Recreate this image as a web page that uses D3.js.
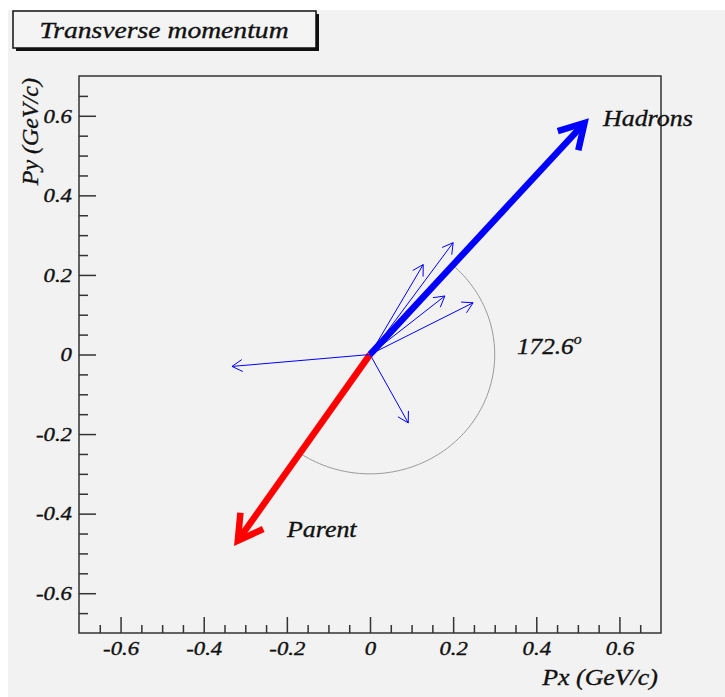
<!DOCTYPE html>
<html>
<head>
<meta charset="utf-8">
<script src="https://cdn.jsdelivr.net/npm/d3@7"></script>
<style>
  html, body { margin: 0; padding: 0; background: #ffffff; }
  svg { display: block; }
  text { font-family: "Liberation Serif", "Times New Roman", serif; font-style: italic; fill: #111; stroke: #111; stroke-width: 0.35px; }
</style>
</head>
<body>
<svg id="chart" width="725" height="697"></svg>
<script>
// Charged tracks in the transverse plane (Px, Py in GeV/c)
const trackPx = [-0.332, 0.092, 0.128, 0.200, 0.180, 0.248];
const trackPy = [-0.030, -0.172, 0.226, 0.281, 0.147, 0.130];

// Reconstructed parent transverse momentum
const parentP = [-0.318, -0.468];

// Axis ticks
const majorTicks = [-0.6, -0.4, -0.2, 0, 0.2, 0.4, 0.6];
const minorTicks = [-0.65, -0.55, -0.5, -0.45, -0.35, -0.3, -0.25, -0.15, -0.1, -0.05,
                    0.05, 0.1, 0.15, 0.25, 0.3, 0.35, 0.45, 0.5, 0.55, 0.65];

const arcRadius = 0.3;

const svg = d3.select("#chart");
const W = 725, H = 697;

// page background
svg.append("rect").attr("x", 8).attr("y", 10).attr("width", W - 8).attr("height", H - 10)
  .attr("fill", "#f2f2f2");

const frame = { left: 79, right: 661, top: 76, bottom: 633 };
const x = d3.scaleLinear().domain([-0.7, 0.7]).range([frame.left, frame.right]);
const y = d3.scaleLinear().domain([-0.7, 0.7]).range([frame.bottom, frame.top]);

const fmt = d => d === 0 ? "0" : d.toFixed(1);

// text placed at (px, py), stretched horizontally by sx
function label(parent, px, py, str, size, sx, anchor) {
  return parent.append("text")
    .attr("transform", `translate(${px},${py}) scale(${sx},1)`)
    .attr("text-anchor", anchor || "start")
    .style("font-size", size + "px")
    .text(str);
}

// frame box
svg.append("rect")
  .attr("x", frame.left).attr("y", frame.top)
  .attr("width", frame.right - frame.left).attr("height", frame.bottom - frame.top)
  .attr("fill", "none").attr("stroke", "#333").attr("stroke-width", 1.5);

// bottom axis: major and minor ticks pointing inward
const gx = svg.append("g").attr("transform", `translate(0,${frame.bottom})`)
  .call(d3.axisBottom(x).tickValues(majorTicks).tickSize(-16).tickPadding(0).tickFormat(fmt));
svg.append("g").attr("transform", `translate(0,${frame.bottom})`)
  .call(d3.axisBottom(x).tickValues(minorTicks).tickSize(-8).tickFormat(""));

// left axis
const gy = svg.append("g").attr("transform", `translate(${frame.left},0)`)
  .call(d3.axisLeft(y).tickValues(majorTicks).tickSize(-17).tickPadding(0).tickFormat(fmt));
svg.append("g").attr("transform", `translate(${frame.left},0)`)
  .call(d3.axisLeft(y).tickValues(minorTicks).tickSize(-9).tickFormat(""));

svg.selectAll(".domain").remove();
svg.selectAll(".tick line").attr("stroke", "#333").attr("stroke-width", 1.5);

const tickFont = sel => sel
  .style("font-family", '"Liberation Serif", serif').style("font-style", "italic")
  .style("font-size", "19px").attr("fill", "#222");
gx.selectAll(".tick text").call(tickFont)
  .attr("x", null).attr("y", null).attr("dy", 0)
  .attr("transform", "translate(0,22) scale(1.2,1)");
gy.selectAll(".tick text").call(tickFont)
  .attr("x", null).attr("dy", "0.33em")
  .attr("transform", "translate(-7,0) scale(1.2,1)");

// axis titles
label(svg, 658, 685, "Px (GeV/c)", 24, 1.08, "end");
svg.append("text").attr("transform", "translate(38,78) rotate(-90)").attr("text-anchor", "end")
  .style("font-size", "24px").text("Py (GeV/c)");

// title box with drop shadow
svg.append("rect").attr("x", 16).attr("y", 14).attr("width", 303).attr("height", 37).attr("fill", "#111");
svg.append("rect").attr("x", 13).attr("y", 11).attr("width", 303).attr("height", 37)
  .attr("fill", "#f4f4f4").attr("stroke", "#111").attr("stroke-width", 1.5);
label(svg, 164, 38, "Transverse momentum", 24, 1.15, "middle");

// hadron system = vector sum of tracks
const hadronP = [d3.sum(trackPx), d3.sum(trackPy)];

const x0 = x(0), y0 = y(0);

function arrowHead(g, px, py, len, half, color, width) {
  const tx = x(px), ty = y(py);
  const a = Math.atan2(ty - y0, tx - x0);
  const pts = [
    [tx - len * Math.cos(a - half), ty - len * Math.sin(a - half)],
    [tx, ty],
    [tx - len * Math.cos(a + half), ty - len * Math.sin(a + half)]
  ];
  g.append("path").attr("d", d3.line()(pts)).attr("fill", "none")
    .attr("stroke", color).attr("stroke-width", width)
    .attr("stroke-linejoin", "miter").attr("stroke-linecap", "butt");
}

// opening angle between parent and hadron system
const angH = Math.atan2(hadronP[1], hadronP[0]);
const angP = Math.atan2(parentP[1], parentP[0]);
let dAng = Math.abs(angH - angP);
if (dAng > Math.PI) dAng = 2 * Math.PI - dAng;

// arc of radius 0.3 sweeping clockwise from hadrons to parent
let endAng = angP;
while (endAng > angH) endAng -= 2 * Math.PI;
const arcSteps = d3.range(0, 101).map(i => angH + (endAng - angH) * i / 100);
svg.append("path")
  .attr("d", d3.line()(arcSteps.map(t => [x(arcRadius * Math.cos(t)), y(arcRadius * Math.sin(t))])))
  .attr("fill", "none").attr("stroke", "#999").attr("stroke-width", 1);

// parent arrow
const gP = svg.append("g");
gP.append("line").attr("x1", x0).attr("y1", y0).attr("x2", x(parentP[0])).attr("y2", y(parentP[1]))
  .attr("stroke", "#ff0000").attr("stroke-width", 6.5);
arrowHead(gP, parentP[0], parentP[1], 28, Math.PI / 6, "#ff0000", 6.5);

// hadron arrow
const gH = svg.append("g");
gH.append("line").attr("x1", x0).attr("y1", y0).attr("x2", x(hadronP[0])).attr("y2", y(hadronP[1]))
  .attr("stroke", "#0000ff").attr("stroke-width", 6.5);
arrowHead(gH, hadronP[0], hadronP[1], 28, Math.PI / 6, "#0000ff", 6.5);

// individual tracks
const gT = svg.append("g");
trackPx.forEach((px, i) => {
  const py = trackPy[i];
  gT.append("line").attr("x1", x0).attr("y1", y0).attr("x2", x(px)).attr("y2", y(py))
    .attr("stroke", "#0000ff").attr("stroke-width", 1);
  arrowHead(gT, px, py, 12, Math.PI / 6, "#0000ff", 1);
});

// labels
label(svg, 603, 126, "Hadrons", 24, 1.08);
label(svg, 287, 537, "Parent", 24, 1.08);
const angLabel = label(svg, 517, 354, "", 24, 1.05);
angLabel.append("tspan").text(d3.format(".1f")(dAng * 180 / Math.PI));
angLabel.append("tspan").attr("dy", -10).style("font-size", "15px").text("o");
</script>
</body>
</html>
